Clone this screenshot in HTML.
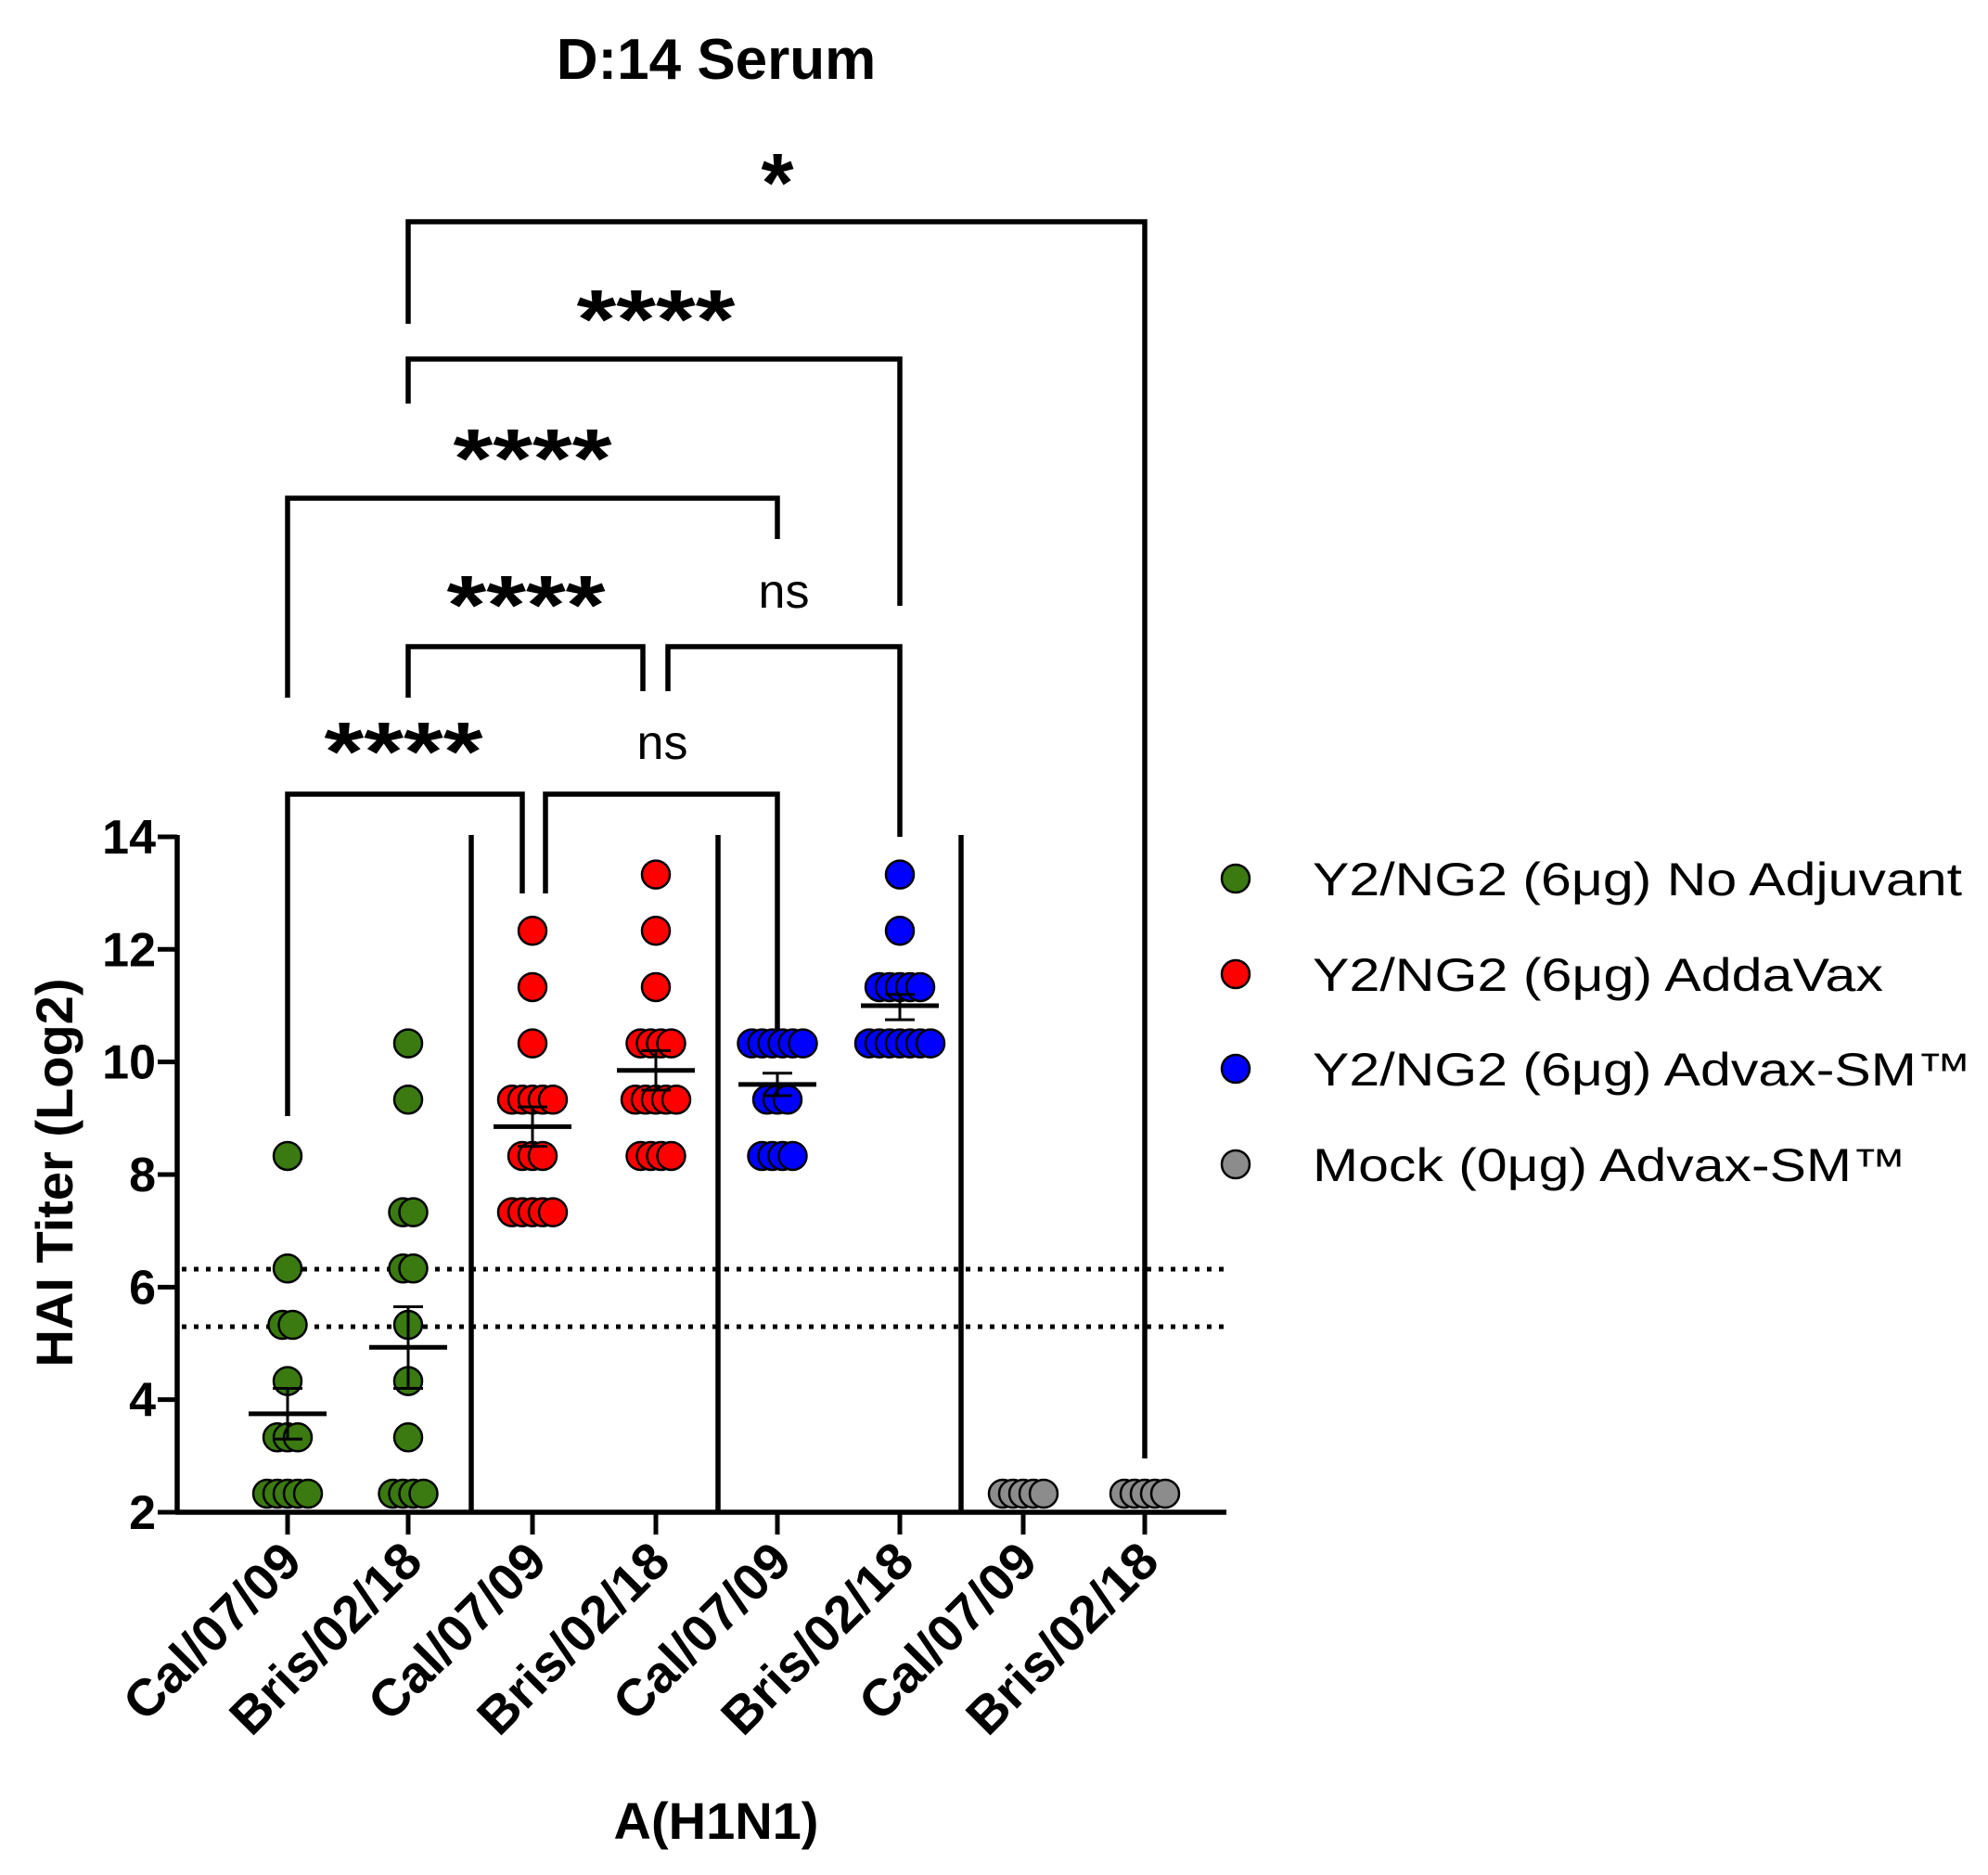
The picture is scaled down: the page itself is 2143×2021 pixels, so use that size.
<!DOCTYPE html>
<html><head><meta charset="utf-8"><style>
html,body{margin:0;padding:0;background:#fff;}
svg{display:block;}
text{font-family:"Liberation Sans",Arial,sans-serif;}
</style></head><body>
<svg id="s" width="2143" height="2021" viewBox="0 0 2143 2021" xmlns="http://www.w3.org/2000/svg">
<rect width="2143" height="2021" fill="#fff"/>
<text x="772" y="85" font-size="62" font-weight="bold" text-anchor="middle">D:14 Serum</text>
<g stroke="#000" stroke-width="5.5" fill="none" stroke-linecap="butt">
<polyline points="440,349 440,239 1234,239 1234,1572"/>
<polyline points="440,435 440,387 970,387 970,653"/>
<polyline points="310,752 310,537 838,537 838,581"/>
<polyline points="440,752 440,697 693,697 693,745"/>
<polyline points="720,745 720,697 970,697 970,902"/>
<polyline points="310,1203 310,856 563,856 563,963"/>
<polyline points="588,963 588,856 838,856 838,1121"/>
<line x1="191" y1="900" x2="191" y2="1632"/>
<line x1="189" y1="1630" x2="1322" y2="1630"/>
<line x1="508" y1="900" x2="508" y2="1632"/>
<line x1="774" y1="900" x2="774" y2="1632"/>
<line x1="1036" y1="900" x2="1036" y2="1632"/>
</g>
<g stroke="#000" stroke-width="5" stroke-dasharray="5,8">
<line x1="196" y1="1368" x2="1320" y2="1368"/>
<line x1="196" y1="1430" x2="1320" y2="1430"/>
</g>
<g font-weight="bold" text-anchor="middle">
<text x="838" y="228" font-size="90">*</text>
<text x="707" y="375" font-size="90" textLength="171" lengthAdjust="spacingAndGlyphs">****</text>
<text x="574" y="525" font-size="90" textLength="171" lengthAdjust="spacingAndGlyphs">****</text>
<text x="567" y="683" font-size="90" textLength="171" lengthAdjust="spacingAndGlyphs">****</text>
<text x="435" y="841" font-size="90" textLength="171" lengthAdjust="spacingAndGlyphs">****</text>
</g>
<text x="845" y="655" font-size="52" text-anchor="middle">ns</text>
<text x="714" y="818" font-size="52" text-anchor="middle">ns</text>
<g id="ticks" stroke="#000" stroke-width="5"></g>
<g id="ylab" font-weight="bold" font-size="52" text-anchor="end"></g>
<g id="xlab" font-weight="bold" font-size="56" text-anchor="end"></g>
<g id="pts" stroke="#000" stroke-width="2.5"></g>
<g id="means" stroke="#000" stroke-width="5"></g>
<text transform="translate(78,1264) rotate(-90)" font-size="56" font-weight="bold" text-anchor="middle">HAI Titer (Log2)</text>
<text x="772" y="1982" font-size="56" font-weight="bold" text-anchor="middle">A(H1N1)</text>
<g font-size="50">
<circle cx="1332" cy="947" r="15" fill="#3a7a10" stroke="#000" stroke-width="2.5"/>
<circle cx="1332" cy="1050" r="15" fill="#ff0000" stroke="#000" stroke-width="2.5"/>
<circle cx="1332" cy="1152" r="15" fill="#0000ff" stroke="#000" stroke-width="2.5"/>
<circle cx="1332" cy="1255" r="15" fill="#8c8c8c" stroke="#000" stroke-width="2.5"/>
<text x="1415" y="965" textLength="700" lengthAdjust="spacingAndGlyphs">Y2/NG2 (6μg) No Adjuvant</text>
<text x="1415" y="1068" textLength="615" lengthAdjust="spacingAndGlyphs">Y2/NG2 (6μg) AddaVax</text>
<text x="1415" y="1170" textLength="710" lengthAdjust="spacingAndGlyphs">Y2/NG2 (6μg) Advax-SM™</text>
<text x="1415" y="1273" textLength="640" lengthAdjust="spacingAndGlyphs">Mock (0μg) Advax-SM™</text>
</g>
</svg>
<script>
const NS="http://www.w3.org/2000/svg";
function el(p,t,a,txt){const e=document.createElementNS(NS,t);for(const k in a)e.setAttribute(k,a[k]);if(txt!==undefined)e.textContent=txt;document.getElementById(p).appendChild(e);return e;}
const Y=v=>1630-(v-2)*60.67;
for(let v=2;v<=14;v+=2){el("ticks","line",{x1:170,y1:Y(v),x2:191,y2:Y(v)});el("ylab","text",{x:168,y:Y(v)+18},String(v));}
const xs=[310,440,574,707,838,970,1103,1234];
const names=["Cal/07/09","Bris/02/18"];
xs.forEach((x,i)=>{el("ticks","line",{x1:x,y1:1630,x2:x,y2:1654});
 el("xlab","text",{transform:`translate(${x+18},${1686}) rotate(-45)`},names[i%2]);});
const G="#3a7a10",R="#ff0000",B="#0000ff",Gr="#8c8c8c";
const data=[
[G,[[8.33,1],[6.33,1],[5.33,2],[4.33,1],[3.33,3],[2.33,5]],3.75,4.2,3.3],
[G,[[10.33,1],[9.33,1],[7.33,2],[6.33,2],[5.33,1],[4.33,1],[3.33,1],[2.33,4]],4.93,5.65,4.2],
[R,[[12.33,1],[11.33,1],[10.33,1],[9.33,5],[8.33,3],[7.33,5]],8.85,9.2,8.5],
[R,[[13.33,1],[12.33,1],[11.33,1],[10.33,4],[9.33,5],[8.33,4]],9.85,10.2,9.5],
[B,[[10.33,6],[9.33,3],[8.33,4]],9.6,9.8,9.4],
[B,[[13.33,1],[12.33,1],[11.33,5],[10.33,7]],11.0,11.2,10.75],
[Gr,[[2.33,5]],null],
[Gr,[[2.33,5]],null]];
data.forEach((d,i)=>{const x=xs[i];
 d[1].forEach(([v,n])=>{for(let k=0;k<n;k++){const off=(k-(n-1)/2)*11;
  el("pts","circle",{cx:x+off,cy:Y(v),r:15,fill:d[0]});}});
 if(d[2]!==null){el("means","line",{x1:x-42,y1:Y(d[2]),x2:x+42,y2:Y(d[2])});
  el("means","line",{x1:x,y1:Y(d[3]),x2:x,y2:Y(d[4]),"stroke-width":3});
  el("means","line",{x1:x-16,y1:Y(d[3]),x2:x+16,y2:Y(d[3]),"stroke-width":3});
  el("means","line",{x1:x-16,y1:Y(d[4]),x2:x+16,y2:Y(d[4]),"stroke-width":3});}
});
</script>
</body></html>
